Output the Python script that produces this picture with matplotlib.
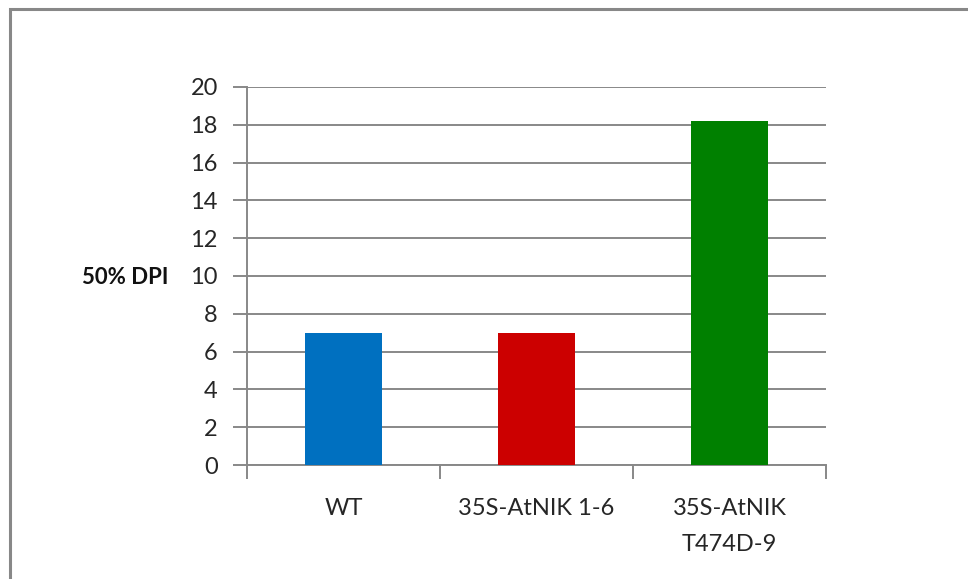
import matplotlib.pyplot as plt
from matplotlib.patches import Rectangle

# data
categories = ["WT", "35S-AtNIK 1-6", "35S-AtNIK\nT474D-9"]
values = [7.0, 7.0, 18.2]
colors = ["#0070C0", "#CC0000", "#008000"]
yticks = [0, 2, 4, 6, 8, 10, 12, 14, 16, 18, 20]

plt.rcParams['font.family'] = ['Lato', 'DejaVu Sans']

W, H = 968, 579
fig = plt.figure(figsize=(W / 100, H / 100), dpi=100)
ax = fig.add_axes([247 / W, 1 - 465 / H, (826 - 247) / W, (465 - 87) / H])

grid_col = "#888888"
text_col = "#262626"
x = list(range(len(categories)))
ax.bar(x, values, width=0.4, color=colors, zorder=3)

ax.set_xlim(-0.5, len(categories) - 0.5)
ax.set_ylim(0, 20)
ax.set_yticks(yticks)
ax.set_yticklabels([str(t) for t in yticks], fontsize=17, color=text_col)
ax.yaxis.grid(True, color=grid_col, linewidth=1.4, zorder=0)
ax.tick_params(axis='y', length=10, width=1.4, color=grid_col, pad=11)

# category labels centered, ticks on category boundaries
ax.set_xticks(x)
ax.set_xticklabels(categories, fontsize=17, color=text_col, linespacing=1.85)
ax.tick_params(axis='x', which='major', length=0, pad=24)
ax.set_xticks([i - 0.5 for i in range(len(categories) + 1)], minor=True)
ax.tick_params(axis='x', which='minor', length=10, width=1.4, color=grid_col)
for lbl in ax.get_xticklabels():
    lbl.set_verticalalignment('top')

for s in ['top', 'right']:
    ax.spines[s].set_visible(False)
for s in ['left', 'bottom']:
    ax.spines[s].set_color(grid_col)
    ax.spines[s].set_linewidth(1.4)

fig.text(125 / W, 1 - 277 / H, "50% DPI", fontsize=16, fontweight='bold',
         ha='center', va='center', color="#111111")

# outer chart border, cut off at right and bottom
fig.patches.append(Rectangle((10 / W, -0.1), 1.2, 1 - 9 / H + 0.1,
                             transform=fig.transFigure, fill=False,
                             edgecolor="#888888", linewidth=2.2))

fig.savefig("out.png", dpi=100)
